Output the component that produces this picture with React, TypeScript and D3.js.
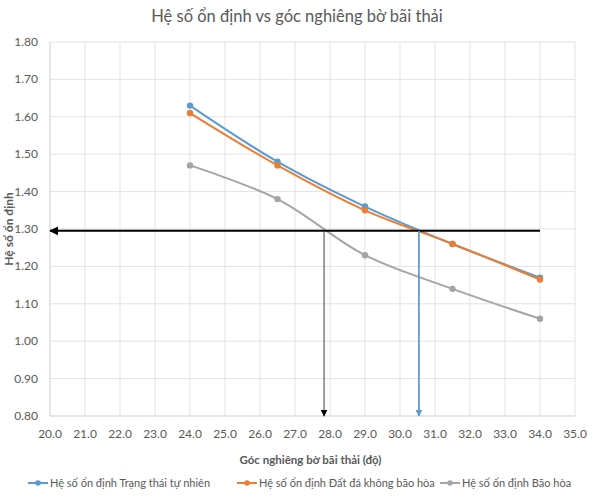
import { useEffect, useRef } from 'react'
import * as d3 from 'd3'

const angles = [24.0, 26.5, 29.0, 31.5, 34.0]
const naturalState = [1.63, 1.48, 1.36, 1.26, 1.17]
const unsaturated = [1.61, 1.47, 1.35, 1.26, 1.165]
const saturated = [1.47, 1.38, 1.23, 1.14, 1.06]
const seriesNames = [
  'Hệ số ổn định Trạng thái tự nhiên',
  'Hệ số ổn định Đất đá không bão hòa',
  'Hệ số ổn định Bão hòa',
]
const seriesColors = ['#5b9bd5', '#ed7d31', '#a5a5a5']
const xTicks = d3.range(20, 35.01, 1)
const yTicks = d3.range(0.8, 1.801, 0.1)
// guide arrows: target factor of safety and the read-off angles
const targetFs = 1.295
const angleSaturated = 27.83
const angleNatural = 30.54

const W = 595
const H = 497
const FONT = 'Lato, "Open Sans", sans-serif'

export default function App() {
  const ref = useRef<SVGSVGElement | null>(null)

  useEffect(() => {
    const svg = d3.select(ref.current)
    svg.selectAll('*').remove()

    const margin = { top: 42, right: 20, bottom: 81, left: 50 }
    const width = W - margin.left - margin.right
    const height = H - margin.top - margin.bottom

    const x = d3.scaleLinear().domain([20, 35]).range([0, width])
    const y = d3.scaleLinear().domain([0.8, 1.8]).range([height, 0])

    const defs = svg.append('defs')
    const mk = (id: string, color: string, size: number) =>
      defs
        .append('marker')
        .attr('id', id)
        .attr('viewBox', '0 0 10 10')
        .attr('refX', 9)
        .attr('refY', 5)
        .attr('markerWidth', size)
        .attr('markerHeight', size)
        .attr('markerUnits', 'userSpaceOnUse')
        .attr('orient', 'auto')
        .append('path')
        .attr('d', 'M0,0 L10,5 L0,10 z')
        .attr('fill', color)
    mk('arrBig', '#000', 9)
    mk('arrBlack', '#000', 7)
    mk('arrBlue', '#5b9bd5', 7)

    svg
      .append('text')
      .attr('x', 297)
      .attr('y', 22)
      .attr('text-anchor', 'middle')
      .attr('font-family', FONT)
      .attr('font-size', 16.5)
      .attr('fill', '#595959')
      .text('Hệ số ổn định vs góc nghiêng bờ bãi thải')

    const chart = svg.append('g').attr('transform', `translate(${margin.left},${margin.top})`)

    // grid
    chart
      .selectAll('.gy')
      .data(yTicks)
      .enter()
      .append('line')
      .attr('x1', 0)
      .attr('x2', width)
      .attr('y1', (d) => y(d))
      .attr('y2', (d) => y(d))
      .attr('stroke', (d) => (Math.abs(d - 0.8) < 1e-6 ? '#bfbfbf' : '#d9d9d9'))
      .attr('stroke-width', 0.75)
    chart
      .selectAll('.gx')
      .data(xTicks)
      .enter()
      .append('line')
      .attr('x1', (d) => x(d))
      .attr('x2', (d) => x(d))
      .attr('y1', 0)
      .attr('y2', height)
      .attr('stroke', (d) => (d === 20 ? '#bfbfbf' : '#d9d9d9'))
      .attr('stroke-width', 0.75)

    chart
      .selectAll('.ty')
      .data(yTicks)
      .enter()
      .append('text')
      .attr('x', -12)
      .attr('y', (d) => y(d) + 4)
      .attr('text-anchor', 'end')
      .attr('font-family', FONT)
      .attr('font-size', 12)
      .attr('fill', '#595959')
      .text((d) => d.toFixed(2))
    chart
      .selectAll('.tx')
      .data(xTicks)
      .enter()
      .append('text')
      .attr('x', (d) => x(d))
      .attr('y', height + 22)
      .attr('text-anchor', 'middle')
      .attr('font-family', FONT)
      .attr('font-size', 12)
      .attr('fill', '#595959')
      .text((d) => d.toFixed(1))

    // axis titles
    svg
      .append('text')
      .attr('transform', `translate(13,${margin.top + height / 2}) rotate(-90)`)
      .attr('text-anchor', 'middle')
      .attr('font-family', FONT)
      .attr('font-size', 12)
      .attr('font-weight', 'bold')
      .attr('fill', '#595959')
      .text('Hệ số ổn định')
    svg
      .append('text')
      .attr('x', margin.left + width / 2 - 2)
      .attr('y', 464)
      .attr('text-anchor', 'middle')
      .attr('font-family', FONT)
      .attr('font-size', 11.5)
      .attr('font-weight', 'bold')
      .attr('fill', '#595959')
      .text('Góc nghiêng bờ bãi thải (độ)')

    const series = [naturalState, unsaturated, saturated]
    const line = d3
      .line<number>()
      .x((_, i) => x(angles[i]))
      .y((d) => y(d))
      .curve(d3.curveCatmullRom.alpha(0.5))

    series.forEach((vals, si) => {
      chart
        .append('path')
        .datum(vals)
        .attr('d', line)
        .attr('fill', 'none')
        .attr('stroke', seriesColors[si])
        .attr('stroke-width', 2)
      chart
        .selectAll(`.pt${si}`)
        .data(vals)
        .enter()
        .append('circle')
        .attr('cx', (_, i) => x(angles[i]))
        .attr('cy', (d) => y(d))
        .attr('r', 3.2)
        .attr('fill', seriesColors[si])
    })

    // guide arrows
    chart
      .append('line')
      .attr('x1', x(angles[angles.length - 1]))
      .attr('x2', 0)
      .attr('y1', y(targetFs))
      .attr('y2', y(targetFs))
      .attr('stroke', '#000')
      .attr('stroke-width', 2)
      .attr('marker-end', 'url(#arrBig)')
    chart
      .append('line')
      .attr('x1', x(angleSaturated))
      .attr('x2', x(angleSaturated))
      .attr('y1', y(targetFs))
      .attr('y2', height)
      .attr('stroke', '#404040')
      .attr('stroke-width', 1)
      .attr('marker-end', 'url(#arrBlack)')
    chart
      .append('line')
      .attr('x1', x(angleNatural))
      .attr('x2', x(angleNatural))
      .attr('y1', y(targetFs))
      .attr('y2', height)
      .attr('stroke', '#5b9bd5')
      .attr('stroke-width', 1.75)
      .attr('marker-end', 'url(#arrBlue)')

    // legend
    const legendX = [28, 237, 440]
    const lg = svg
      .selectAll('.lg')
      .data(seriesNames)
      .enter()
      .append('g')
      .attr('transform', (_, i) => `translate(${legendX[i]},483)`)
    lg.append('line')
      .attr('x1', 0)
      .attr('x2', 20)
      .attr('y1', 0)
      .attr('y2', 0)
      .attr('stroke', (_, i) => seriesColors[i])
      .attr('stroke-width', 2)
    lg.append('circle')
      .attr('cx', 10)
      .attr('cy', 0)
      .attr('r', 2.8)
      .attr('fill', (_, i) => seriesColors[i])
    lg.append('text')
      .attr('x', 22)
      .attr('y', 4)
      .attr('font-family', FONT)
      .attr('font-size', 11)
      .attr('fill', '#595959')
      .text((d) => d)
  }, [])

  return (
    <svg width={W} height={H} ref={ref} style={{ position: 'absolute', left: 0, top: 0, background: '#fff' }} />
  )
}
